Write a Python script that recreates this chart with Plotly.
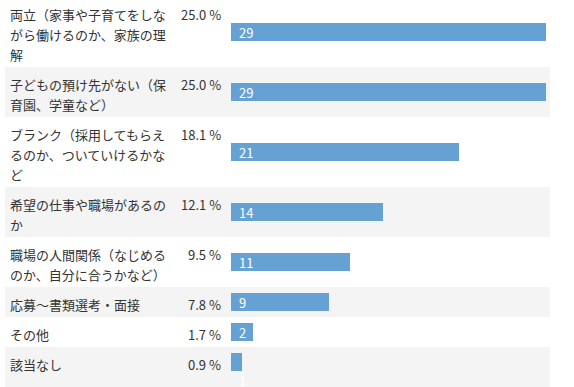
import plotly.graph_objects as go

# ---- data ----
categories = [
    "両立（家事や子育てをしながら働けるのか、家族の理解",
    "子どもの預け先がない（保育園、学童など）",
    "ブランク（採用してもらえるのか、ついていけるかなど",
    "希望の仕事や職場があるのか",
    "職場の人間関係（なじめるのか、自分に合うかなど）",
    "応募～書類選考・面接",
    "その他",
    "該当なし",
]
counts = [29, 29, 21, 14, 11, 9, 2, 1]
percents = [25.0, 25.0, 18.1, 12.1, 9.5, 7.8, 1.7, 0.9]

# ---- layout constants ----
W, H = 574, 387
BAR_X0 = 231          # pixel where count 0 sits
PX_PER_UNIT = 315 / 29
LINE_H = 20
ROW_PAD = 10
BAR_H = 18
WRAP = 12
FONT = "Noto Sans CJK JP, Noto Sans, sans-serif"
TEXT_COLOR = "#333333"
BAR_COLOR = "#65a1d3"
ROW_GRAY = "#f4f4f4"


def wrap(s, n):
    return [s[i:i + n] for i in range(0, len(s), n)]


def label_fits(v):
    return v * PX_PER_UNIT >= 7 + 8 * len(str(v)) + 4


x_range = [-BAR_X0 / PX_PER_UNIT, (W - BAR_X0) / PX_PER_UNIT]

shapes, annotations = [], []
bar_y = []
top = -3
for i, (cat, c, p) in enumerate(zip(categories, counts, percents)):
    lines = wrap(cat, WRAP)
    fits = label_fits(c)
    content_h = BAR_H + (0 if fits else LINE_H)
    n_lines = max(len(lines), 1 if fits else 2)
    h = n_lines * LINE_H + ROW_PAD
    if i % 2 == 1:
        shapes.append(dict(type="rect", xref="paper", yref="y",
                           x0=5 / W, x1=550 / W, y0=top, y1=top + h,
                           fillcolor=ROW_GRAY, line=dict(width=0), layer="below"))
    for j, ln in enumerate(lines):
        annotations.append(dict(text=ln, xref="paper", yref="y", x=8 / W,
                                y=top + 17 + LINE_H * j, xanchor="left", yanchor="middle",
                                showarrow=False,
                                font=dict(family=FONT, size=13, color=TEXT_COLOR)))
    annotations.append(dict(text=f"{p:.1f} %", xref="paper", yref="y", x=223 / W,
                            y=top + 17, xanchor="right", yanchor="middle", showarrow=False,
                            font=dict(family=FONT, size=13, color=TEXT_COLOR)))
    ctop = top + (h - content_h) / 2
    yc = ctop + BAR_H / 2
    bar_y.append(yc)
    if fits:
        annotations.append(dict(text=str(c), xref="x", yref="y", x=0, y=yc,
                                xanchor="left", yanchor="middle", xshift=6, showarrow=False,
                                font=dict(family=FONT, size=13, color="white")))
    else:
        annotations.append(dict(text=str(c), xref="x", yref="y", x=0, y=ctop + BAR_H + LINE_H / 2 - 1,
                                xanchor="left", yanchor="middle", xshift=6, showarrow=False,
                                font=dict(family=FONT, size=13, color="white")))
    top += h

fig = go.Figure(go.Bar(
    x=counts, y=bar_y, orientation="h", width=BAR_H, base=0,
    marker=dict(color=BAR_COLOR, line=dict(width=0)),
    textposition="none", hoverinfo="skip",
))

fig.update_layout(
    width=W, height=H,
    margin=dict(l=0, r=0, t=0, b=0),
    paper_bgcolor="white", plot_bgcolor="white",
    showlegend=False,
    shapes=shapes, annotations=annotations,
    xaxis=dict(range=x_range, visible=False, fixedrange=True),
    yaxis=dict(range=[H, 0], visible=False, fixedrange=True),
    bargap=0,
)

fig.write_html("out.html", config={"displayModeBar": False},
               post_script="document.body.style.margin='0';document.body.style.overflow='hidden';")
